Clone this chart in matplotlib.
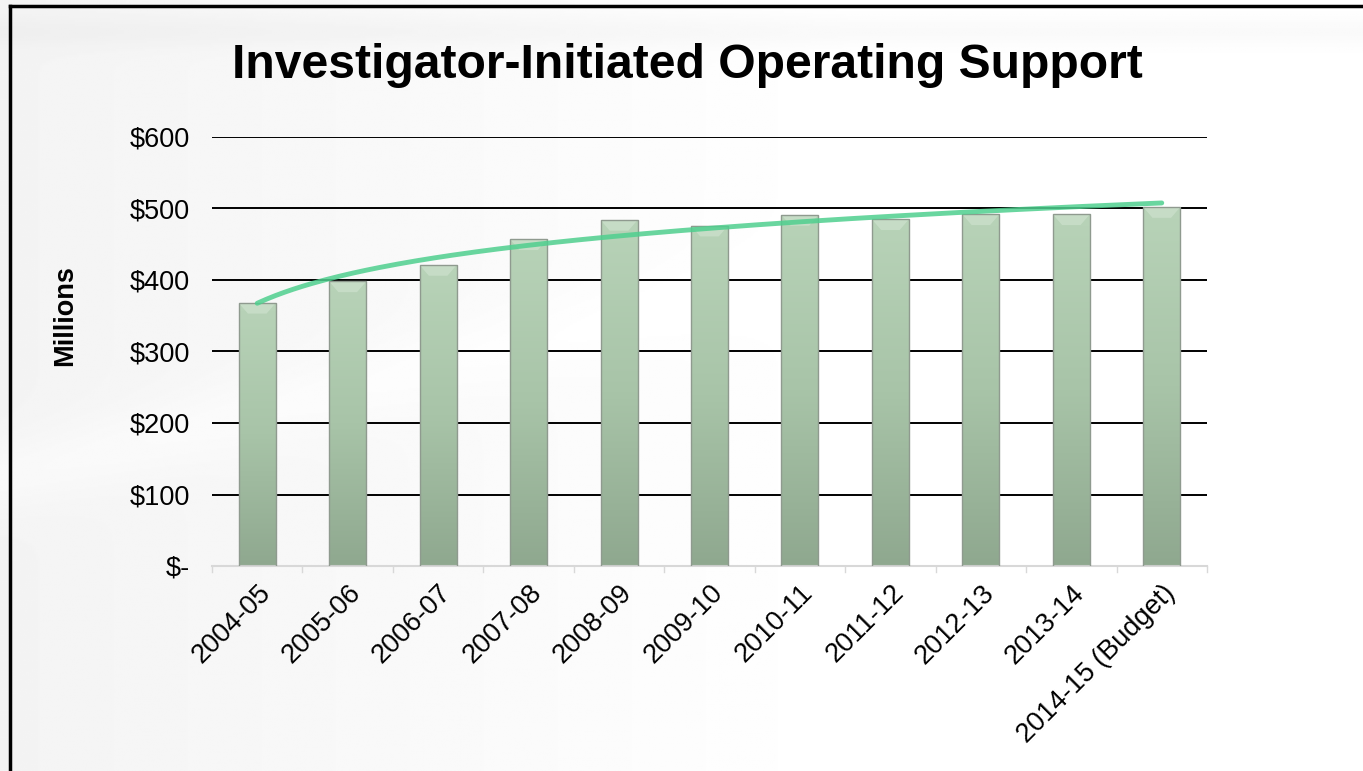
import matplotlib.pyplot as plt
import matplotlib.patches as mpatches
import numpy as np

plt.rcParams['font.family'] = ['Liberation Sans', 'DejaVu Sans']

# data (millions of dollars)
years = ['2004-05', '2005-06', '2006-07', '2007-08', '2008-09', '2009-10',
         '2010-11', '2011-12', '2012-13', '2013-14', '2014-15 (Budget)']
funding = [368, 398, 421, 457, 484, 476, 491, 485, 492, 492, 502]
y_ticks = [0, 100, 200, 300, 400, 500, 600]
y_labels = ['$-', '$100', '$200', '$300', '$400', '$500', '$600']

fig = plt.figure(figsize=(13.63, 7.71), dpi=100)
fig.patch.set_facecolor('white')

# soft grey background swooshes
bg = fig.add_axes([0, 0, 1, 1], zorder=-10)
yy, xx = np.mgrid[0:1:400j, 0:1:700j]
shade = 0.955 + 0.045 * np.clip(xx * 1.6, 0, 1)
shade -= 0.02 * np.exp(-((yy - 0.04) / 0.02) ** 2)
shade += 0.02 * np.exp(-((yy - (0.62 - 0.45 * xx)) / 0.05) ** 2) * (1 - xx)
bg.imshow(np.clip(shade, 0, 1), cmap='gray', vmin=0, vmax=1, aspect='auto',
          extent=[0, 1, 0, 1], origin='upper')
bg.set_xlim(0, 1)
bg.set_ylim(0, 1)
bg.axis('off')
# slide frame (left and top edges)
bg.plot([10 / 1363, 10 / 1363], [0, 1 - 6 / 771], color='black', lw=2.5,
        solid_capstyle='projecting')
bg.plot([10 / 1363, 1], [1 - 6 / 771, 1 - 6 / 771], color='black', lw=2.5,
        solid_capstyle='projecting')

ax = fig.add_axes([212 / 1363, 1 - 566 / 771, 995 / 1363, 429 / 771])
ax.patch.set_alpha(0)
x = np.arange(len(years))
bar_w = 0.41

bars = ax.bar(x, funding, width=bar_w, color='none', edgecolor='#8f9a8f',
              linewidth=1.0, zorder=3)
grad = np.linspace(0, 1, 256).reshape(-1, 1)
cmap = plt.matplotlib.colors.LinearSegmentedColormap.from_list(
    'bar', ['#8fa88f', '#a8c4a8', '#b8d3b8'])
for b, v in zip(bars, funding):
    x0 = b.get_x()
    im = ax.imshow(grad, cmap=cmap, aspect='auto', origin='lower',
                   extent=[x0, x0 + bar_w, 0, v], zorder=2)
    im.set_clip_path(b)
    # bevel highlight at the top
    h = 15
    bevel = mpatches.Polygon([[x0, v], [x0 + bar_w, v],
                              [x0 + bar_w * 0.75, v - h], [x0 + bar_w * 0.25, v - h]],
                             closed=True, facecolor='#d4e6d4', edgecolor='none',
                             alpha=0.55, zorder=2.5)
    ax.add_patch(bevel)

# logarithmic trend line fitted to the bars
n = np.arange(1, len(funding) + 1)
a, c = np.polyfit(np.log(n), funding, 1)
xs = np.linspace(1, len(funding), 200)
ax.plot(xs - 1, a * np.log(xs) + c, color='#4fcf8e', lw=3.5, alpha=0.85,
        zorder=4, solid_capstyle='round')

ax.set_xlim(-0.5, len(years) - 0.5)
ax.set_ylim(0, 600)
ax.set_yticks(y_ticks)
ax.set_yticklabels(y_labels, fontsize=19.5)
ax.yaxis.grid(True, color='black', lw=1.4)
ax.get_ygridlines()[0].set_visible(False)
ax.set_axisbelow(True)
ax.tick_params(axis='y', length=0, pad=16)

ax.set_xticks(x)
ax.set_xticklabels(years, rotation=45, ha='right', rotation_mode='anchor',
                   fontsize=19.5)
ax.tick_params(axis='x', length=0, pad=10)
for k in np.arange(-0.5, len(years), 1.0):
    ax.plot([k, k], [0, -9], color='#d8d8d8', lw=1, clip_on=False)

for s in ['top', 'right', 'left']:
    ax.spines[s].set_visible(False)
ax.spines['bottom'].set_color('#d8d8d8')
ax.spines['bottom'].set_linewidth(1.5)

fig.text(65 / 1363, 1 - 316 / 771, 'Millions', rotation=90, fontsize=19.5,
         fontweight='bold', ha='center', va='center')
fig.text(687 / 1363, 1 - 65 / 771, 'Investigator-Initiated Operating Support',
         fontsize=34.6, fontweight='bold', ha='center', va='center')

fig.savefig('out.png', dpi=100, facecolor=fig.get_facecolor())
